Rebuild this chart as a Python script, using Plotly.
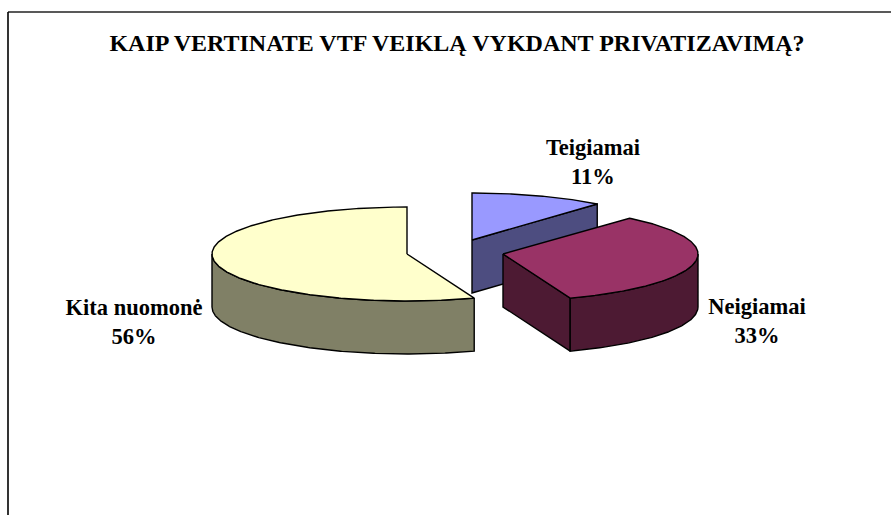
import numpy as np
import plotly.graph_objects as go

title = "KAIP VERTINATE VTF VEIKLĄ VYKDANT PRIVATIZAVIMĄ?"
categories = ["Teigiamai", "Neigiamai", "Kita nuomonė"]
values = [11.1, 33.3, 55.6]
top_colors = ["#9999FF", "#993366", "#FFFFCC"]
side_colors = ["#4D4D80", "#4D1A33", "#808066"]

# pie projection (pixel-like axis units)
centers = [(472, 240), (503, 254), (407, 254)]
RX, RY, DEPTH = 195, 47, 53
label_pos = [(593, 164), (757, 323), (134, 324)]
FONT = "Liberation Serif"
LW = 1.4

fig = go.Figure()


def pt(c, deg):
    a = np.radians(deg)
    return c[0] + RX * np.sin(a), c[1] - RY * np.cos(a)


def arc(c, a0, a1):
    d = np.linspace(a0, a1, max(2, int(abs(a1 - a0) * 2) + 1))
    return c[0] + RX * np.sin(np.radians(d)), c[1] - RY * np.cos(np.radians(d))


def poly(x, y, color):
    x = np.append(x, x[0])
    y = np.append(y, y[0])
    fig.add_trace(go.Scatter(x=x, y=y, mode="lines", fill="toself", fillcolor=color,
                             line=dict(color="black", width=LW), hoverinfo="skip",
                             showlegend=False))


total = sum(values)
edges = np.cumsum([0] + values) / total * 360
for i, c in enumerate(centers):
    a0, a1 = edges[i], edges[i + 1]
    # radial cut face running to the end of the slice, visible when it looks forward
    if i < 2:
        ex, ey = pt(c, a1)
        poly(np.array([c[0], ex, ex, c[0]]), np.array([c[1], ey, ey + DEPTH, c[1] + DEPTH]),
             side_colors[i])
    # outer rim: only the front half of the ellipse is seen
    r0, r1 = max(a0, 90), min(a1, 270)
    if r1 > r0:
        ax, ay = arc(c, r0, r1)
        poly(np.concatenate([ax, ax[::-1]]), np.concatenate([ay, ay[::-1] + DEPTH]),
             side_colors[i])
    # top face
    ax, ay = arc(c, a0, a1)
    poly(np.concatenate([[c[0]], ax]), np.concatenate([[c[1]], ay]), top_colors[i])

for name, v, p in zip(categories, values, label_pos):
    fig.add_trace(go.Scatter(
        x=[p[0]], y=[p[1]], mode="text", text=[f"{name}<br>{v:.0f}%"],
        textposition="middle center", hoverinfo="skip", showlegend=False,
        textfont=dict(family=FONT, size=22.5, color="black", weight="bold")))

fig.add_shape(type="line", x0=8, x1=891, y0=12, y1=12, line=dict(color="#222222", width=1.6))
fig.add_shape(type="line", x0=8, x1=8, y0=12, y1=515, line=dict(color="black", width=1.6))

fig.update_layout(
    width=891, height=515, margin=dict(l=0, r=0, t=0, b=0),
    paper_bgcolor="white", plot_bgcolor="white",
    title=dict(text=f"<b>{title}</b>", x=457 / 891, xanchor="center", y=1 - 43 / 515,
               yanchor="middle", font=dict(family=FONT, size=24, color="black")),
    xaxis=dict(range=[0, 891], visible=False, fixedrange=True),
    yaxis=dict(range=[515, 0], visible=False, fixedrange=True),
)
fig.write_html("out.html", post_script="document.body.style.margin='0';",
               config={"displayModeBar": False})
